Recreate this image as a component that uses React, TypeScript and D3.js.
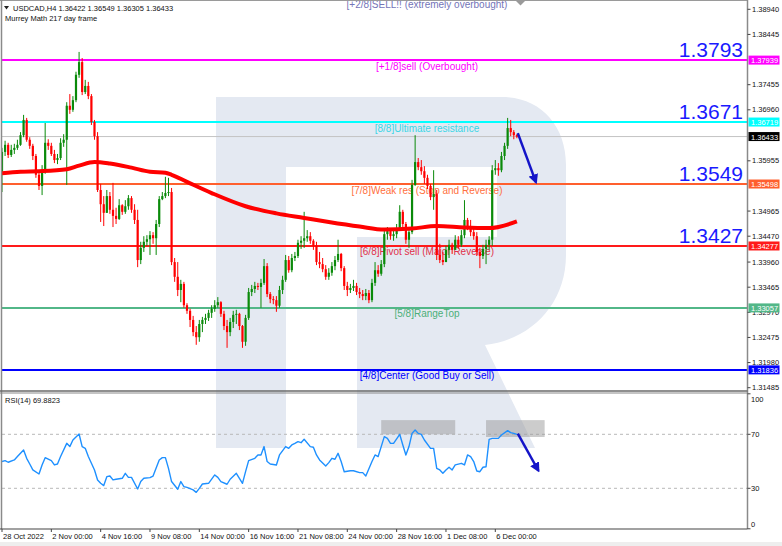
import * as d3 from 'd3';

// USDCAD H4, Murrey Math levels + MA + RSI(14)
const OPEN0 = 1.3568;
const CLOSE = [
  1.3613, 1.3627, 1.3607, 1.3617, 1.3621, 1.3627, 1.3646, 1.3676, 1.3637, 1.3625,
  1.3605, 1.3568, 1.3546, 1.3573, 1.3631, 1.3625, 1.3609, 1.3597, 1.3601, 1.3631,
  1.3637, 1.3704, 1.3696, 1.3715, 1.3765, 1.3790, 1.3731, 1.3743, 1.3723, 1.3672,
  1.3644, 1.3538, 1.3510, 1.3493, 1.3526, 1.3499, 1.3487, 1.3481, 1.3508, 1.3495,
  1.3506, 1.3522, 1.3499, 1.3479, 1.3400, 1.3424, 1.3436, 1.3441, 1.3449, 1.3443,
  1.3471, 1.3520, 1.3526, 1.3532, 1.3534, 1.3396, 1.3367, 1.3341, 1.3353, 1.3311,
  1.3300, 1.3282, 1.3258, 1.3248, 1.3274, 1.3282, 1.3286, 1.3296, 1.3304, 1.3311,
  1.3317, 1.3294, 1.3270, 1.3258, 1.3278, 1.3292, 1.3294, 1.3270, 1.3239, 1.3286,
  1.3337, 1.3343, 1.3349, 1.3347, 1.3355, 1.3388, 1.3333, 1.3323, 1.3321, 1.3310,
  1.3341, 1.3361, 1.3400, 1.3380, 1.3404, 1.3408, 1.3434, 1.3438, 1.3443, 1.3447,
  1.3438, 1.3428, 1.3396, 1.3392, 1.3382, 1.3367, 1.3375, 1.3388, 1.3400, 1.3412,
  1.3384, 1.3349, 1.3341, 1.3345, 1.3349, 1.3337, 1.3333, 1.3329, 1.3335, 1.3321,
  1.3355, 1.3380, 1.3373, 1.3392, 1.3451, 1.3457, 1.3447, 1.3451, 1.3463, 1.3495,
  1.3471, 1.3440, 1.3455, 1.3548, 1.3593, 1.3583, 1.3575, 1.3562, 1.3546, 1.3524,
  1.3530, 1.3410, 1.3400, 1.3396, 1.3420, 1.3430, 1.3420, 1.3440, 1.3430, 1.3449,
  1.3479, 1.3467, 1.3455, 1.3447, 1.3416, 1.3408, 1.3422, 1.3430, 1.3440, 1.3577,
  1.3581, 1.3577, 1.3605, 1.3625, 1.3660, 1.3652, 1.3646, 1.3643,
];
const HIGH = [
  1.3621, 1.3635, 1.3631, 1.3627, 1.3629, 1.3637, 1.3652, 1.3686, 1.3680, 1.3642,
  1.3629, 1.3609, 1.3577, 1.3587, 1.3670, 1.3638, 1.3631, 1.3617, 1.3609, 1.3640,
  1.3648, 1.3711, 1.3727, 1.3723, 1.3771, 1.3810, 1.3798, 1.3755, 1.3751, 1.3727,
  1.3676, 1.3652, 1.3550, 1.3526, 1.3538, 1.3534, 1.3552, 1.3503, 1.3520, 1.3510,
  1.3518, 1.3528, 1.3526, 1.3510, 1.3499, 1.3436, 1.3447, 1.3449, 1.3457, 1.3455,
  1.3479, 1.3526, 1.3534, 1.3564, 1.3562, 1.3542, 1.3404, 1.3396, 1.3361, 1.3357,
  1.3315, 1.3304, 1.3290, 1.3270, 1.3282, 1.3288, 1.3294, 1.3302, 1.3311, 1.3321,
  1.3327, 1.3319, 1.3300, 1.3282, 1.3286, 1.3300, 1.3302, 1.3296, 1.3272, 1.3292,
  1.3345, 1.3351, 1.3357, 1.3355, 1.3363, 1.3402, 1.3394, 1.3337, 1.3329, 1.3329,
  1.3349, 1.3369, 1.3410, 1.3408, 1.3412, 1.3416, 1.3440, 1.3447, 1.3495, 1.3459,
  1.3455, 1.3441, 1.3436, 1.3416, 1.3404, 1.3390, 1.3384, 1.3396, 1.3408, 1.3440,
  1.3414, 1.3388, 1.3357, 1.3353, 1.3361, 1.3355, 1.3345, 1.3341, 1.3343, 1.3341,
  1.3363, 1.3396, 1.3390, 1.3400, 1.3463, 1.3465, 1.3463, 1.3461, 1.3471, 1.3508,
  1.3499, 1.3475, 1.3463, 1.3558, 1.3646, 1.3601, 1.3597, 1.3585, 1.3568, 1.3550,
  1.3577, 1.3538, 1.3432, 1.3416, 1.3428, 1.3440, 1.3434, 1.3449, 1.3447, 1.3459,
  1.3518, 1.3483, 1.3479, 1.3463, 1.3455, 1.3424, 1.3430, 1.3440, 1.3447, 1.3587,
  1.3597, 1.3591, 1.3613, 1.3631, 1.3680, 1.3676, 1.3656, 1.3648,
];
const LOW = [
  1.3534, 1.3605, 1.3601, 1.3603, 1.3609, 1.3617, 1.3625, 1.3642, 1.3633, 1.3619,
  1.3597, 1.3562, 1.3538, 1.3528, 1.3570, 1.3617, 1.3605, 1.3591, 1.3589, 1.3597,
  1.3623, 1.3548, 1.3688, 1.3692, 1.3711, 1.3759, 1.3725, 1.3727, 1.3717, 1.3666,
  1.3637, 1.3534, 1.3475, 1.3467, 1.3508, 1.3491, 1.3465, 1.3471, 1.3479, 1.3489,
  1.3491, 1.3499, 1.3493, 1.3471, 1.3386, 1.3392, 1.3416, 1.3428, 1.3410, 1.3432,
  1.3410, 1.3465, 1.3518, 1.3522, 1.3526, 1.3390, 1.3357, 1.3329, 1.3317, 1.3306,
  1.3294, 1.3268, 1.3250, 1.3233, 1.3239, 1.3258, 1.3274, 1.3280, 1.3286, 1.3298,
  1.3306, 1.3288, 1.3262, 1.3227, 1.3250, 1.3266, 1.3274, 1.3262, 1.3227, 1.3231,
  1.3282, 1.3329, 1.3335, 1.3341, 1.3306, 1.3351, 1.3327, 1.3315, 1.3313, 1.3298,
  1.3306, 1.3333, 1.3357, 1.3375, 1.3376, 1.3398, 1.3404, 1.3422, 1.3424, 1.3436,
  1.3432, 1.3420, 1.3390, 1.3384, 1.3376, 1.3361, 1.3361, 1.3369, 1.3380, 1.3396,
  1.3378, 1.3341, 1.3329, 1.3335, 1.3339, 1.3331, 1.3325, 1.3321, 1.3321, 1.3315,
  1.3317, 1.3349, 1.3367, 1.3369, 1.3386, 1.3440, 1.3440, 1.3438, 1.3443, 1.3459,
  1.3463, 1.3432, 1.3424, 1.3451, 1.3546, 1.3577, 1.3568, 1.3550, 1.3540, 1.3518,
  1.3499, 1.3400, 1.3394, 1.3390, 1.3396, 1.3404, 1.3412, 1.3422, 1.3422, 1.3426,
  1.3443, 1.3459, 1.3447, 1.3440, 1.3408, 1.3384, 1.3402, 1.3392, 1.3420, 1.3428,
  1.3568, 1.3566, 1.3573, 1.3597, 1.3619, 1.3644, 1.3638, 1.3640,
];

const MA_IDX = [0, 6, 12, 21, 25, 30, 35, 42, 48, 53, 55, 60, 68, 79, 89, 98, 106, 116, 124, 133, 141, 150, 158, 167];
const MA_VAL = [
  1.3571, 1.3574, 1.3575, 1.3579, 1.3586, 1.3593, 1.3590, 1.3582, 1.3574, 1.3572, 1.3568, 1.3554,
  1.3532, 1.3506, 1.3492, 1.3483, 1.3475, 1.3466, 1.3460, 1.3462, 1.3467, 1.3464, 1.3463, 1.3476,
];

const RSI_IDX = [
  0, 1, 2, 4, 5, 7, 8, 9, 10, 12, 13, 14, 16, 17, 18, 19, 21, 22, 23, 25, 26, 27, 28, 29, 30,
  31, 32, 33, 34, 35, 36, 37, 39, 40, 41, 42, 44, 45, 46, 48, 49, 51, 52, 53, 54, 55, 57, 58,
  59, 60, 62, 63, 64, 65, 67, 69, 70, 71, 73, 74, 76, 77, 78, 79, 80, 82, 83, 84, 85, 86, 87,
  89, 90, 92, 93, 94, 95, 96, 97, 98, 100, 101, 102, 103, 105, 106, 107, 108, 109, 110, 111,
  113, 114, 116, 117, 118, 120, 121, 122, 123, 124, 125, 126, 127, 129, 130, 131, 132, 133,
  134, 135, 136, 137, 139, 140, 141, 142, 143, 144, 145, 146, 147, 149, 150, 151, 152, 153,
  154, 155, 156, 157, 158, 159, 161, 162, 164, 165, 166, 167,
];
const RSI_VAL = [
  49.8, 50.5, 49.3, 51, 53.5, 58.4, 52.2, 48, 43.6, 40.6, 47.3, 52.7, 50.5, 47.3, 48, 53.5, 63.3,
  60.9, 65.8, 70.2, 60.9, 59.6, 53.5, 48.5, 43.6, 36.2, 33.7, 32, 38.6, 39.1, 36.2, 36.7, 37.4,
  41.1, 38.1, 38.1, 29.5, 35, 37.4, 37.9, 39.1, 51, 52.7, 52.7, 44.8, 35, 29.3, 35, 31.2, 30.7,
  28.8, 27, 30, 33.2, 33.7, 39.9, 38.1, 35, 33, 36.7, 41.1, 37.4, 33.7, 42.3, 50.5, 52.2, 54.7,
  54.7, 60.9, 49.8, 48, 47.3, 54.7, 60.9, 59.6, 62.1, 63.3, 64.6, 63.8, 66.3, 60.9, 60.4, 54.7,
  51, 46.5, 49, 52.2, 51.5, 55.9, 49.8, 42.3, 43, 43, 41.6, 41.6, 39.1, 49.8, 54.7, 53.5, 60.9,
  68.3, 67, 63.3, 63.3, 70, 62.1, 54.7, 60.9, 70.7, 73.2, 70.7, 70, 65.8, 59.6, 59.6, 44.8, 43.6,
  41.1, 43.6, 45.6, 43.6, 47.3, 48.5, 47.3, 54.7, 53.5, 49.8, 42.8, 42.3, 45.6, 46, 66.3, 67, 67,
  69.5, 72.7, 71.2, 70.7, 69.9,
];

const TIME_LABELS = [
  '28 Oct 2022', '2 Nov 00:00', '4 Nov 16:00', '9 Nov 08:00', '14 Nov 00:00', '16 Nov 16:00',
  '21 Nov 08:00', '24 Nov 00:00', '28 Nov 16:00', '1 Dec 08:00', '6 Dec 00:00',
];
const BARS_PER_LABEL = 16;
const PRICE_TICKS = [
  1.3894, 1.38445, 1.37455, 1.3696, 1.35955, 1.34965, 1.3447, 1.3396, 1.33465, 1.3297, 1.32475,
  1.3198, 1.31485,
];
const RSI_TICKS = [100, 70, 30, 0];

const TOP_LEVEL_PRICE = 1.3916;
const TOP_LEVEL_NAME = '[+2/8]SELL!! (extremely overbought)';
const LEVEL_PRICES = [1.37939, 1.36719, 1.35498, 1.34277, 1.33057, 1.31836];
const LEVEL_NAMES = [
  '[+1/8]sell (Overbought)',
  '[8/8]Ultimate resistance',
  '[7/8]Weak res (Stop and Reverse)',
  '[6/8]Pivot sell (Major Reverse)',
  '[5/8]RangeTop',
  '[4/8]Center (Good Buy or Sell)',
];
const BIG_LABELS = ['1.3793', '1.3671', '1.3549', '1.3427'];
const LAST_PRICE = 1.36433;
const HEADER = 'USDCAD,H4  1.36422 1.36549 1.36305 1.36433';
const SUBHEADER = 'Murrey Math 217 day frame';
const RSI_TITLE = 'RSI(14) 69.8823';

// arrows: [fromBar, fromValue, toBar, toValue]
const PRICE_ARROW = [167.3, 1.365, 173.2, 1.3553];
const RSI_ARROW = [167.3, 70.5, 174, 43];
// overbought zones in RSI panel: [fromBar, toBar, topRsi, bottomRsi]
const RSI_ZONES = [
  [123, 147, 80.5, 70],
  [157, 176, 80.5, 68],
];

// styles
const LINE_COLORS = ['#ff00ff', '#00ffff', '#ff5f2e', '#ff1a1a', '#52b788', '#0000ff'];
const TEXT_COLORS = ['#ff00ff', '#3ad6e6', '#ff7040', '#e0304a', '#4caf78', '#0000ff'];
const BULL = '#0a8a0a';
const BEAR = '#ff0000';
const FONT = "'Liberation Sans', Arial, sans-serif";

export default function App() {
  const W = 782;
  const H = 546;
  const left = 2;
  const right = 747.5;
  const mainBottom = 391;
  const rsiTop = 393;
  const rsiBottom = 529;

  const x = d3.scaleLinear().domain([0, 160]).range([2, 495.3]);
  const y = d3.scaleLinear().domain([1.31485, 1.3894]).range([387.7, 9.3]);
  const yR = d3.scaleLinear().domain([0, 100]).range([528.8, 393.8]);

  const maLine = d3
    .line<number>()
    .x((_, i) => x(MA_IDX[i]))
    .y((d) => y(d))
    .curve(d3.curveMonotoneX);

  const rsiLine = d3
    .line<number>()
    .x((_, i) => x(RSI_IDX[i]))
    .y((d) => yR(d));

  const logo =
    'M216,97 H502 C540,97 566,125 566,165 V255 C566,305 530,340 485,345 L535,448 H357 V237 H497 V167 H286 V448 H216 Z';

  const boxes = [
    ...LEVEL_PRICES.map((p, i) => ({ p, bg: LINE_COLORS[i] })),
    { p: LAST_PRICE, bg: '#000000' },
  ];

  return (
    <svg
      width={W}
      height={H}
      style={{ position: 'absolute', left: 0, top: 0, background: '#fff' }}
      fontFamily={FONT}
    >
      <defs>
        <clipPath id="mainClip">
          <rect x={left} y={0} width={right - left} height={mainBottom} />
        </clipPath>
        <clipPath id="rsiClip">
          <rect x={left} y={rsiTop} width={right - left} height={rsiBottom - rsiTop} />
        </clipPath>
        <clipPath id="allClip">
          <rect x={left} y={0} width={right - left} height={rsiBottom} />
        </clipPath>
        <marker id="ah" viewBox="0 0 10 10" refX="8" refY="5" markerWidth="4" markerHeight="4" orient="auto">
          <path d="M0,0 L10,5 L0,10 Z" fill="#1414c8" />
        </marker>
      </defs>
      <rect width={W} height={H} fill="#fff" />

      {/* watermark */}
      <path d={logo} fill="#e4e9f2" clipPath="url(#allClip)" />

      {/* murrey levels */}
      <g clipPath="url(#mainClip)">
        <text x={427} y={y(TOP_LEVEL_PRICE) + 9.5} fontSize={10} fill="#7474b8" textAnchor="middle">
          {TOP_LEVEL_NAME}
        </text>
        <path d="M516,1 L525,1 L520.5,5.5 Z" fill="#9a9a9a" />
        {LEVEL_PRICES.map((p, i) => (
          <g key={i}>
            <line x1={left} x2={right} y1={y(p)} y2={y(p)} stroke={LINE_COLORS[i]} strokeWidth={2} />
            <text x={427} y={y(p) + 9.5} fontSize={10} fill={TEXT_COLORS[i]} textAnchor="middle">
              {LEVEL_NAMES[i]}
            </text>
          </g>
        ))}
        <line x1={left} x2={right} y1={y(LAST_PRICE)} y2={y(LAST_PRICE)} stroke="#c4c4c4" strokeWidth={1} />
      </g>

      {/* candles */}
      <g clipPath="url(#mainClip)">
        {CLOSE.map((c, i) => {
          const o = i === 0 ? OPEN0 : CLOSE[i - 1];
          const hi = Math.max(HIGH[i], o, c);
          const lo = Math.min(LOW[i], o, c);
          const col = c >= o ? BULL : BEAR;
          const cx = x(i);
          const top = y(Math.max(o, c));
          const h = Math.max(1, y(Math.min(o, c)) - top);
          return (
            <g key={i}>
              <line x1={cx} x2={cx} y1={y(hi)} y2={y(lo)} stroke={col} strokeWidth={1} />
              <rect x={cx - 1.1} y={top} width={2.2} height={h} fill={col} />
            </g>
          );
        })}
        <path d={maLine(MA_VAL) || ''} fill="none" stroke="#ff0000" strokeWidth={4} strokeLinejoin="round" />
      </g>

      {/* big level values */}
      {BIG_LABELS.map((t, i) => (
        <text key={t} x={743} y={y(LEVEL_PRICES[i]) - 3} fontSize={21} fill="#1a1aff" textAnchor="end">
          {t}
        </text>
      ))}

      <line
        x1={x(PRICE_ARROW[0])}
        y1={y(PRICE_ARROW[1])}
        x2={x(PRICE_ARROW[2])}
        y2={y(PRICE_ARROW[3])}
        stroke="#1414c8"
        strokeWidth={2.5}
        markerEnd="url(#ah)"
      />

      {/* header */}
      <path d="M4,6 L9,6 L6.5,9.5 Z" fill="#222" />
      <text x={13} y={11} fontSize={7.5} fill="#111">
        {HEADER}
      </text>
      <text x={5} y={21} fontSize={7.5} fill="#111">
        {SUBHEADER}
      </text>

      {/* RSI panel */}
      <g clipPath="url(#rsiClip)">
        {[70, 30].map((v) => (
          <line key={v} x1={left} x2={right} y1={yR(v)} y2={yR(v)} stroke="#b8b8b8" strokeDasharray="3,3" />
        ))}
        {RSI_ZONES.map((z, i) => (
          <rect
            key={i}
            x={x(z[0])}
            y={yR(z[2])}
            width={x(z[1]) - x(z[0])}
            height={yR(z[3]) - yR(z[2])}
            fill="#9a9a9a"
            opacity={0.5}
          />
        ))}
        <path d={rsiLine(RSI_VAL) || ''} fill="none" stroke="#1e90ff" strokeWidth={1.4} strokeLinejoin="round" />
      </g>
      <line
        x1={x(RSI_ARROW[0])}
        y1={yR(RSI_ARROW[1])}
        x2={x(RSI_ARROW[2])}
        y2={yR(RSI_ARROW[3])}
        stroke="#1414c8"
        strokeWidth={2.5}
        markerEnd="url(#ah)"
      />
      <text x={5} y={403} fontSize={7.5} fill="#111">
        {RSI_TITLE}
      </text>

      {/* frames */}
      <line x1={0} x2={right} y1={0.5} y2={0.5} stroke="#9a9a9a" />
      <line x1={1.5} x2={1.5} y1={0} y2={rsiBottom} stroke="#8a8a8a" strokeWidth={1.5} />
      <line x1={right} x2={right} y1={0} y2={rsiBottom} stroke="#8a8a8a" strokeWidth={1.5} />
      <line x1={0} x2={right} y1={mainBottom} y2={mainBottom} stroke="#6a6a6a" strokeWidth={1.5} />
      <line x1={0} x2={right} y1={rsiTop} y2={rsiTop} stroke="#8a8a8a" strokeWidth={1} />
      <line x1={0} x2={right} y1={rsiBottom} y2={rsiBottom} stroke="#444" strokeWidth={1.2} />

      {/* price axis */}
      {PRICE_TICKS.map((p) => (
        <g key={p}>
          <line x1={right} x2={right + 3} y1={y(p)} y2={y(p)} stroke="#444" />
          <text x={752} y={y(p)} fontSize={7.5} fill="#111" dominantBaseline="central">
            {p.toFixed(5)}
          </text>
        </g>
      ))}
      {boxes.map((b) => (
        <g key={b.p}>
          <rect x={748.5} y={y(b.p) - 4.5} width={31} height={9} fill={b.bg} />
          <text x={751} y={y(b.p) + 0.5} fontSize={7.5} fill="#fff" dominantBaseline="central">
            {b.p.toFixed(5)}
          </text>
        </g>
      ))}

      {/* RSI axis */}
      {RSI_TICKS.map((v) => (
        <g key={v}>
          <line x1={right} x2={right + 3} y1={yR(v)} y2={yR(v)} stroke="#444" />
          <text
            x={751}
            y={Math.min(524, Math.max(399, yR(v)))}
            fontSize={7.5}
            fill="#111"
            dominantBaseline="central"
          >
            {v}
          </text>
        </g>
      ))}

      {/* time axis */}
      {TIME_LABELS.map((t, k) => {
        const tx = x(k * BARS_PER_LABEL);
        return (
          <g key={t}>
            <line x1={tx} x2={tx} y1={rsiBottom} y2={rsiBottom + 3} stroke="#444" />
            <text x={tx + 1} y={539} fontSize={7.5} fill="#111">
              {t}
            </text>
          </g>
        );
      })}
      <rect x={0} y={542} width={W} height={4} fill="#eeeeee" />
    </svg>
  );
}
